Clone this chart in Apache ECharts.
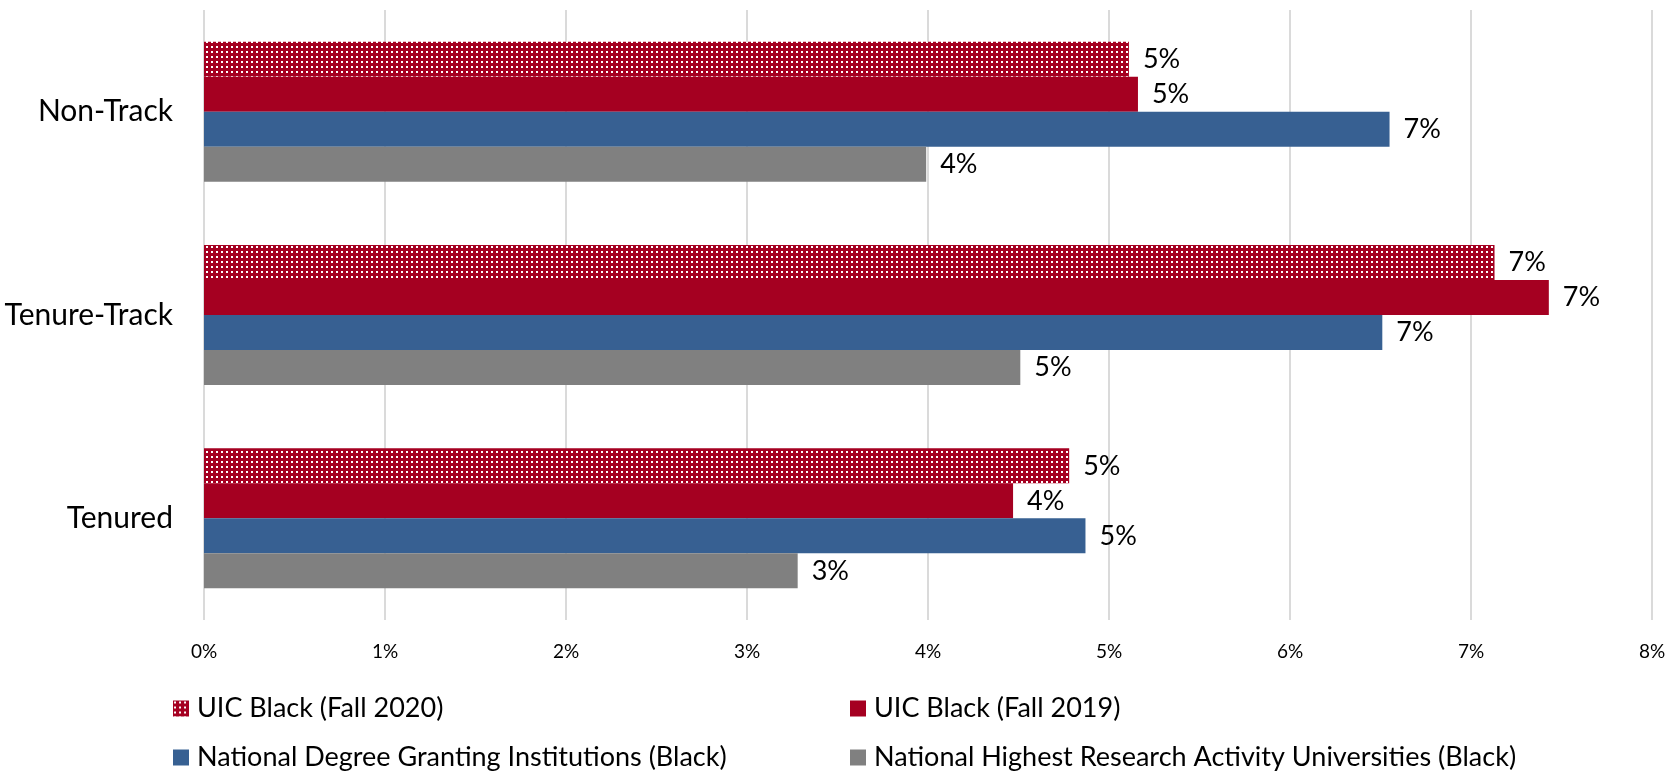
<!DOCTYPE html>
<html>
<head>
<meta charset="utf-8">
<script src="https://cdn.jsdelivr.net/npm/echarts@6/dist/echarts.min.js"></script>
<style>html,body{margin:0;padding:0;background:#fff}#chart{width:1671px;height:779px}</style>
</head>
<body>
<div id="chart"></div>
<script>
const categories = ['Non-Track', 'Tenure-Track', 'Tenured'];
const seriesNames = ['UIC Black (Fall 2020)', 'UIC Black (Fall 2019)', 'National Degree Granting Institutions (Black)', 'National Highest Research Activity Universities (Black)'];
const uic2020 = [5.11, 7.13, 4.78];
const uic2019 = [5.16, 7.43, 4.47];
const nationalDegree = [6.55, 6.51, 4.87];
const nationalHighest = [3.99, 4.51, 3.28];
const xTicks = [0, 1, 2, 3, 4, 5, 6, 7, 8];

const FONT = 'Lato';
const RED = '#A50021', BLUE = '#376092', GRAY = '#808080';

function makePattern() {
  const c = document.createElement('canvas');
  c.width = 5; c.height = 5;
  const ctx = c.getContext('2d');
  ctx.fillStyle = RED; ctx.fillRect(0, 0, 5, 5);
  ctx.fillStyle = '#ffffff'; ctx.fillRect(1, 1, 2, 2);
  return c;
}
const pattern = { image: makePattern(), repeat: 'repeat' };

const colors = [pattern, RED, BLUE, GRAY];
const values = [uic2020, uic2019, nationalDegree, nationalHighest];

const chart = echarts.init(document.getElementById('chart'), null, { renderer: 'canvas' });

const legendPos = [[173, 695], [850, 695], [173, 744], [850, 744]];

const option = {
  animation: false,
  backgroundColor: '#fff',
  grid: { left: 204, right: 19, top: 10, bottom: 159, containLabel: false },
  xAxis: {
    type: 'value', min: 0, max: 8, interval: 1,
    axisLine: { show: false }, axisTick: { show: false },
    splitLine: { show: true, lineStyle: { color: '#dadada', width: 2 } },
    axisLabel: { formatter: v => xTicks.includes(v) ? v + '%' : '', fontFamily: FONT, fontSize: 19, color: '#000', margin: 22 }
  },
  yAxis: {
    type: 'category', data: categories, inverse: true,
    axisLine: { show: false }, axisTick: { show: false },
    axisLabel: { fontFamily: FONT, fontSize: 30, color: '#000', margin: 31 }
  },
  legend: seriesNames.map((n, i) => ({
    data: [n], left: legendPos[i][0], top: legendPos[i][1], padding: 0,
    itemWidth: 16, itemHeight: 16, icon: 'rect', selectedMode: false,
    textStyle: { fontFamily: FONT, fontSize: 27, color: '#000', padding: [0, 0, 0, 3] }
  })),
  series: seriesNames.map((n, i) => ({
    name: n, type: 'bar', data: values[i], barWidth: 35, barGap: '0%',
    itemStyle: { color: colors[i] },
    label: { show: true, position: 'right', distance: 14, formatter: p => Math.round(p.value) + '%', fontFamily: FONT, fontSize: 27, color: '#000' }
  }))
};
chart.setOption(option);
</script>
</body>
</html>
